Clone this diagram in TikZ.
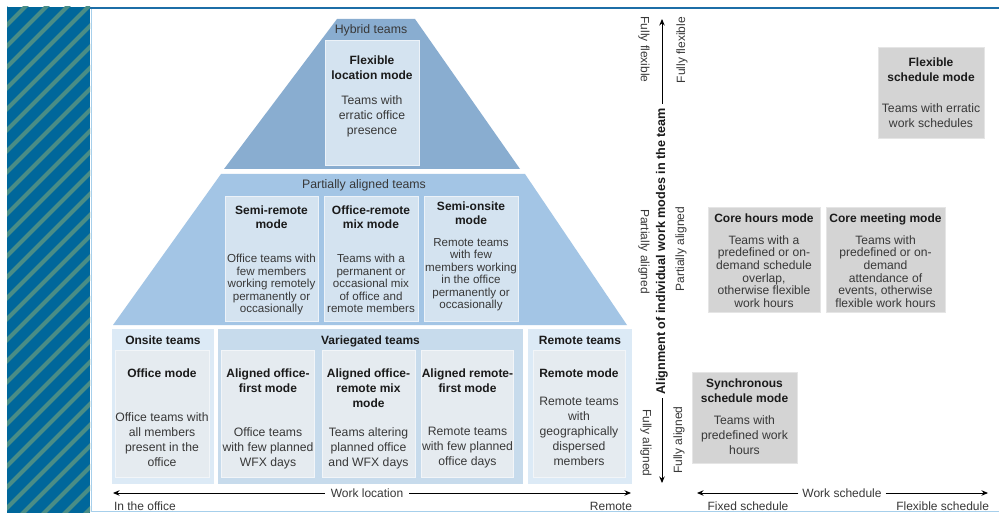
\documentclass[tikz,border=0pt]{standalone}
\usepackage{fontspec}
\setmainfont{Liberation Sans}
\usetikzlibrary{arrows.meta,shadows}

\definecolor{stripebg}{HTML}{00679B}
\definecolor{stripeln}{HTML}{4A8D86}
\definecolor{framebl}{HTML}{1C6EA7}
\definecolor{framelt}{HTML}{A6CFEB}
\definecolor{hybridbl}{HTML}{89ADD0}
\definecolor{partbl}{HTML}{A3C5E5}
\definecolor{cellbl}{HTML}{D4E3F0}
\definecolor{sidebl}{HTML}{DCEAF6}
\definecolor{varbl}{HTML}{C7DBEC}
\definecolor{cellpale}{HTML}{E5EBF0}
\definecolor{cellgrey}{HTML}{D4D4D4}
\definecolor{txtbody}{HTML}{383838}
\definecolor{txthead}{HTML}{1A1A1A}

\tikzset{
  every node/.style={inner sep=0pt, outer sep=0pt},
  body/.style={font=\fontsize{12.2}{15}\selectfont, text=txtbody, align=center, anchor=north},
  tight/.style={font=\fontsize{11.6}{12.5}\selectfont, text=txtbody, align=center, anchor=north},
  snug/.style={font=\fontsize{12.1}{12.6}\selectfont, text=txtbody, align=center, anchor=north},
  head/.style={font=\fontsize{12}{15}\selectfont\bfseries, text=txthead, align=center, anchor=north},
  headtight/.style={font=\fontsize{12}{14.5}\selectfont\bfseries, text=txthead, align=center, anchor=north},
  group/.style={font=\fontsize{12.3}{15}\selectfont, text=txtbody, anchor=north},
  grouphead/.style={font=\fontsize{12}{15}\selectfont\bfseries, text=txthead, anchor=north},
  bluecell/.style={fill=cellbl, draw=white!55!cellbl, line width=0.8pt},
  palecell/.style={fill=cellpale, draw=white!50!cellpale, line width=0.8pt},
  sidepanel/.style={fill=sidebl},
  varpanel/.style={fill=varbl},
  greycell/.style={fill=cellgrey, draw=white!90!black, line width=0.8pt,
    drop shadow={shadow xshift=1.2pt, shadow yshift=-1.2pt, fill=black, opacity=0.25}},
  axislabel/.style={font=\fontsize{12}{14}\selectfont, text=txtbody},
  axisarrow/.style={draw=black, line width=0.9pt, -{Stealth[length=6.5pt,width=5.5pt]}},
}

\begin{document}
\begin{tikzpicture}[x=1pt,y=-1pt]
\useasboundingbox (0,0) rectangle (999,513);
\fill[white] (0,0) rectangle (999,513);

% hatched side band
\begin{scope}
  \clip (7,7) rectangle (90,513);
  \fill[stripebg] (7,7) rectangle (90,513);
  \foreach \k in {0,...,31} {
    \draw[stripeln, line width=4pt] ({-540+21*\k},530) -- ++(560,-560);
  }
\end{scope}

% frame rules
\draw[framebl, line width=2pt] (90,8) -- (999,8);
\draw[framelt, line width=0.8pt] (91,9) -- (91,511);
\draw[framelt, line width=1.4pt] (91,511.5) -- (999,511.5);

% pyramid layers
\fill[hybridbl] (337,19) -- (415,19) -- (520,169) -- (224,169) -- cycle;
\fill[partbl] (221,174) -- (525,174) -- (627,325) -- (113,325) -- cycle;

% ---------- hybrid teams ----------
\node[group] (hybrid) at (371,24.5) {Hybrid teams};
\node[bluecell, minimum width=94, minimum height=125] (flexloc) at (372,102.5) {};
\node[head] (flexlocT) at (372,55.5) {Flexible\\location mode};
\node[body] (flexlocD) at (372,95.5) {Teams with\\erratic office\\presence};

% ---------- partially aligned teams ----------
\node[group] (partial) at (364,179.5) {Partially aligned teams};

\node[bluecell, minimum width=93, minimum height=125] (semirem) at (271.5,258.5) {};
\node[headtight] (semiremT) at (271.5,205.5) {Semi-remote\\mode};
\node[tight] (semiremD) at (271.5,254.5) {Office teams with\\few members\\working remotely\\permanently or\\occasionally};

\node[bluecell, minimum width=94, minimum height=125] (offmix) at (371,258.5) {};
\node[headtight] (offmixT) at (371,205.5) {Office-remote\\mix mode};
\node[tight] (offmixD) at (371,254.5) {Teams with a\\permanent or\\occasional mix\\of office and\\remote members};

\node[bluecell, minimum width=94, minimum height=125] (semions) at (471,258.5) {};
\node[headtight] (semionsT) at (471,201.5) {Semi-onsite\\mode};
\node[tight] (semionsD) at (471,238.5) {Remote teams\\with few\\members working\\in the office\\permanently or\\occasionally};

% ---------- bottom row ----------
\node[sidepanel, minimum width=102, minimum height=155] (onsite) at (163,406.5) {};
\node[varpanel, minimum width=305, minimum height=155] (varieg) at (370.5,406.5) {};
\node[sidepanel, minimum width=104, minimum height=155] (remote) at (580,406.5) {};

\node[grouphead] (onsiteT) at (163,336) {Onsite teams};
\node[grouphead] (variegT) at (370.5,336) {Variegated teams};
\node[grouphead] (remoteT) at (580,336) {Remote teams};

\node[palecell, minimum width=94, minimum height=127] (offmode) at (162,413.5) {};
\node[head] (offmodeT) at (162,368.5) {Office mode};
\node[body] (offmodeD) at (162,412.5) {Office teams with\\all members\\present in the\\office};

\node[palecell, minimum width=93, minimum height=127] (alfirst) at (268,413.5) {};
\node[head] (alfirstT) at (268,368.5) {Aligned office-\\first mode};
\node[body] (alfirstD) at (268,427.5) {Office teams\\with few planned\\WFX days};

\node[palecell, minimum width=93, minimum height=127] (almix) at (368.5,413.5) {};
\node[head] (almixT) at (368.5,368.5) {Aligned office-\\remote mix\\mode};
\node[body] (almixD) at (368.5,427.5) {Teams altering\\planned office\\and WFX days};

\node[palecell, minimum width=92, minimum height=127] (alremote) at (467.5,413.5) {};
\node[head] (alremoteT) at (467.5,368.5) {Aligned remote-\\first mode};
\node[body] (alremoteD) at (467.5,427.5) {Remote teams\\with few planned\\office days};

\node[palecell, minimum width=92, minimum height=127] (remmode) at (579,413.5) {};
\node[head] (remmodeT) at (579,368.5) {Remote mode};
\node[body] (remmodeD) at (579,397.5) {Remote teams\\with\\geographically\\dispersed\\members};

% ---------- work location axis ----------
\node[axislabel, inner xsep=6pt] (wloc) at (367,493) {Work location};
\coordinate (wlocL) at (113,493);
\coordinate (wlocR) at (631,493);
\draw[axisarrow] (wloc.west) -- (wlocL);
\draw[axisarrow] (wloc.east) -- (wlocR);
\node[axislabel, anchor=west] (inoffice) at (114,506) {In the office};
\node[axislabel, anchor=east] (remoteend) at (632,506) {Remote};

% ---------- alignment axis ----------
\node[font=\fontsize{12.6}{14}\selectfont\bfseries, text=txthead, rotate=90, inner xsep=4pt] (align) at (662,251) {Alignment of individual work modes in the team};
\coordinate (alignTop) at (662,19);
\coordinate (alignBot) at (662,483);
\draw[axisarrow] (align.east) -- (alignTop);
\draw[axisarrow] (align.west) -- (alignBot);

\node[axislabel, rotate=-90] (lflex) at (644,49.5) {Fully flexible};
\node[axislabel, rotate=-90] (lpart) at (644,251.5) {Partially aligned};
\node[axislabel, rotate=-90] (lfull) at (646,443) {Fully aligned};
\node[axislabel, rotate=90] (rflex) at (682,50) {Fully flexible};
\node[axislabel, rotate=90] (rpart) at (681,249) {Partially aligned};
\node[axislabel, rotate=90] (rfull) at (679,440) {Fully aligned};

% ---------- schedule modes ----------
\node[greycell, minimum width=106, minimum height=91] (flexsch) at (931,92.5) {};
\node[head] (flexschT) at (931,57.5) {Flexible\\schedule mode};
\node[body] (flexschD) at (931,103.5) {Teams with erratic\\work schedules};

\node[greycell, minimum width=112, minimum height=105] (corehrs) at (764,259.5) {};
\node[head] (corehrsT) at (764,213.5) {Core hours mode};
\node[snug] (corehrsD) at (764,235.5) {Teams with a\\predefined or on-\\demand schedule\\overlap,\\otherwise flexible\\work hours};

\node[greycell, minimum width=119, minimum height=105] (coremeet) at (885.5,259.5) {};
\node[head] (coremeetT) at (885.5,213.5) {Core meeting mode};
\node[snug] (coremeetD) at (885.5,235.5) {Teams with\\predefined or on-\\demand\\attendance of\\events, otherwise\\flexible work hours};

\node[greycell, minimum width=105, minimum height=91] (syncsch) at (744.5,417.5) {};
\node[head] (syncschT) at (744.5,378.5) {Synchronous\\schedule mode};
\node[body] (syncschD) at (744.5,415.5) {Teams with\\predefined work\\hours};

% ---------- work schedule axis ----------
\node[axislabel, inner xsep=4pt] (wsch) at (842,493) {Work schedule};
\coordinate (wschL) at (697,493);
\coordinate (wschR) at (988,493);
\draw[axisarrow] (wsch.west) -- (wschL);
\draw[axisarrow] (wsch.east) -- (wschR);
\node[axislabel] (fixedsch) at (748,506) {Fixed schedule};
\node[axislabel, anchor=east] (flexend) at (989,506) {Flexible schedule};
\end{tikzpicture}
\end{document}
